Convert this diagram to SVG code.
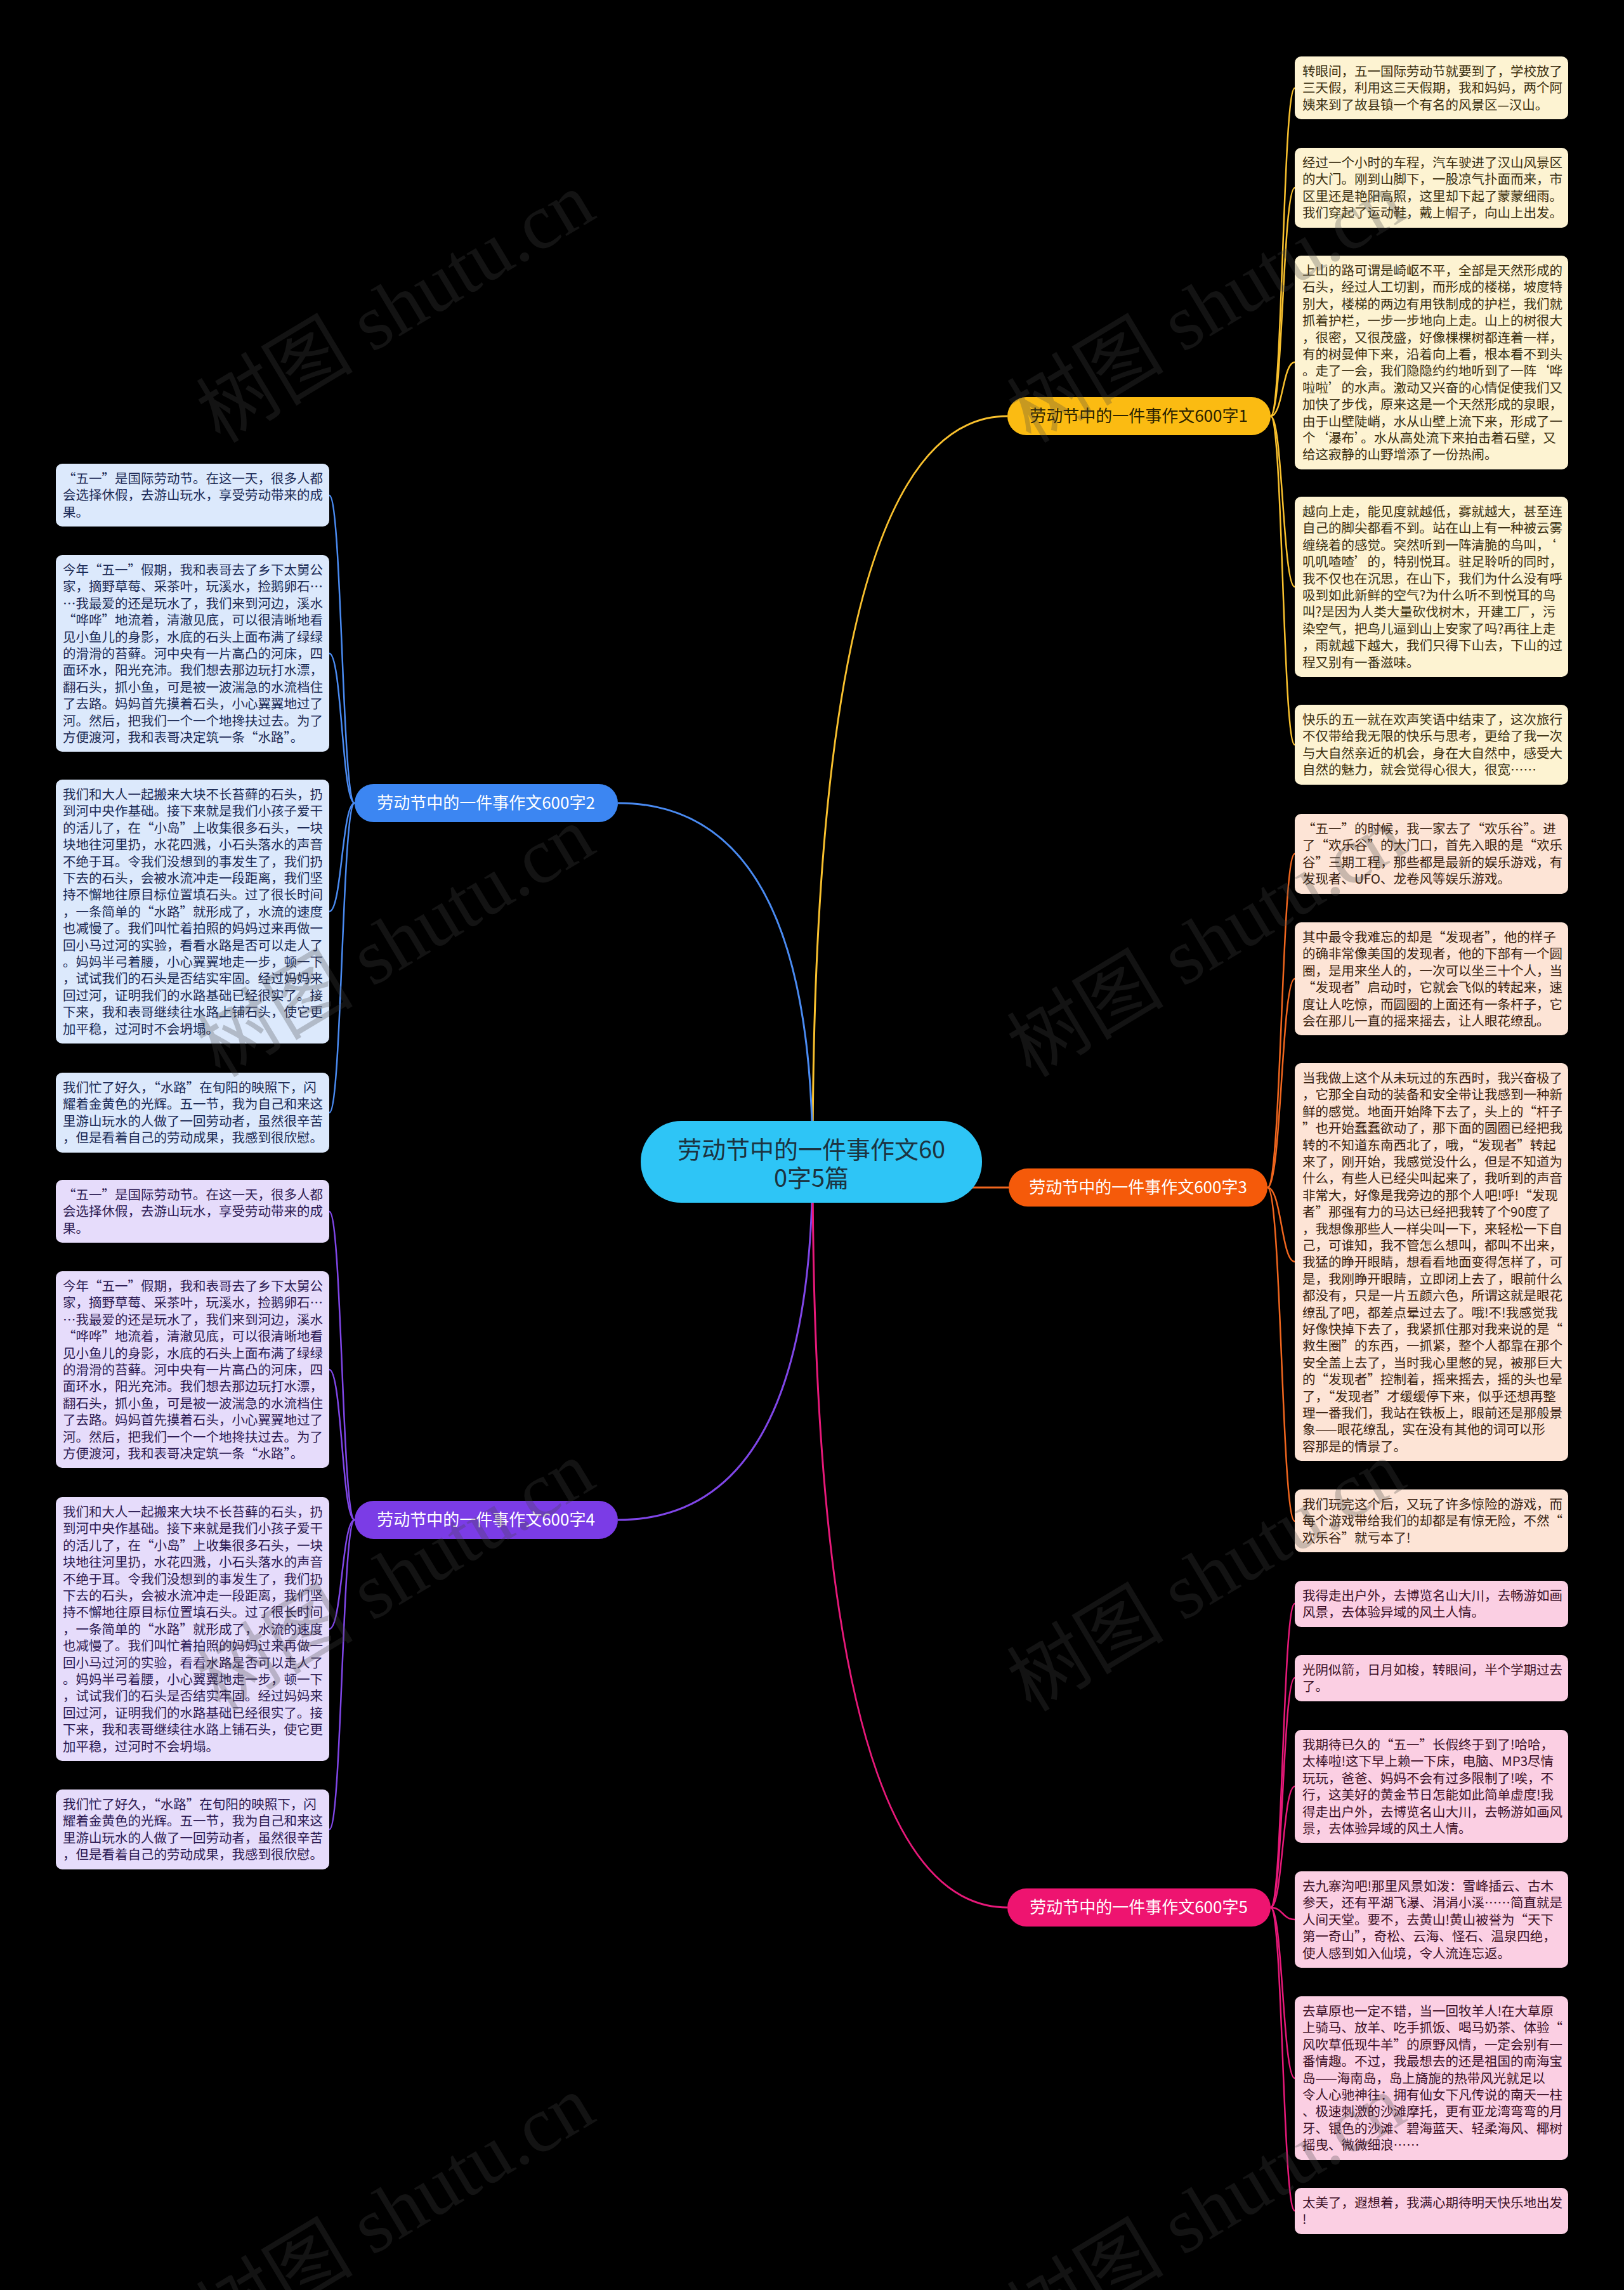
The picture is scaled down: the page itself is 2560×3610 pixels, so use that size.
<svg xmlns="http://www.w3.org/2000/svg" width="2560" height="3610" viewBox="0 0 2560 3610">
<style>
text{font-family:"Noto Sans CJK SC","Noto Sans",sans-serif}
.leaf{font-size:20.5px}
.c1 rect{fill:#FDF3D2}.c1 text{fill:#3B2F10}
.c3 rect{fill:#FDE4D6}.c3 text{fill:#3A1F0F}
.c5 rect{fill:#FBCFE3}.c5 text{fill:#3C0F26}
.c2 rect{fill:#DCE9FC}.c2 text{fill:#1B2A55}
.c4 rect{fill:#E6DCFB}.c4 text{fill:#2C1A52}
.br{font-size:26px;text-anchor:middle}
.ln{fill:none;stroke-width:3}
.sl{fill:none;stroke-width:2.5}
.wm{font-family:"Liberation Serif","Noto Sans CJK SC",serif;font-size:124px;fill:#444;opacity:0.28}
</style>
<rect x="0" y="0" width="2560" height="3610" fill="#000"/>
<g id="connectors">
<path class="ln" stroke="#F9C12E" d="M1281,1831 Q1281,656 1588,656"/>
<path class="ln" stroke="#4A8BF2" d="M1281,1831 Q1281,1266 974,1266"/>
<path class="ln" stroke="#F0661E" d="M1281,1872 H1590"/>
<path class="ln" stroke="#8046E8" d="M1281,1831 Q1281,2396 974,2396"/>
<path class="ln" stroke="#E8197A" d="M1281,1831 Q1281,3007 1588,3007"/>
<g stroke="#F9C12E">
<path class="sl" d="M2003,656 C2022,656 2022,139 2041,139"/>
<path class="sl" d="M2003,656 C2022,656 2022,296 2041,296"/>
<path class="sl" d="M2003,656 C2022,656 2022,571 2041,571"/>
<path class="sl" d="M2003,656 C2022,656 2022,925 2041,925"/>
<path class="sl" d="M2003,656 C2022,656 2022,1174 2041,1174"/>
</g>
<g stroke="#F0661E">
<path class="sl" d="M1998,1872 C2020,1872 2020,1346 2041,1346"/>
<path class="sl" d="M1998,1872 C2020,1872 2020,1543 2041,1543"/>
<path class="sl" d="M1998,1872 C2020,1872 2020,1989 2041,1989"/>
<path class="sl" d="M1998,1872 C2020,1872 2020,2398 2041,2398"/>
</g>
<g stroke="#E8197A">
<path class="sl" d="M2003,3007 C2022,3007 2022,2528 2041,2528"/>
<path class="sl" d="M2003,3007 C2022,3007 2022,2645 2041,2645"/>
<path class="sl" d="M2003,3007 C2022,3007 2022,2816 2041,2816"/>
<path class="sl" d="M2003,3007 C2022,3007 2022,3026 2041,3026"/>
<path class="sl" d="M2003,3007 C2022,3007 2022,3276 2041,3276"/>
<path class="sl" d="M2003,3007 C2022,3007 2022,3485 2041,3485"/>
</g>
<g stroke="#4A8BF2">
<path class="sl" d="M559,1266 C539,1266 539,781 519,781"/>
<path class="sl" d="M559,1266 C539,1266 539,1030 519,1030"/>
<path class="sl" d="M559,1266 C539,1266 539,1437 519,1437"/>
<path class="sl" d="M559,1266 C539,1266 539,1754 519,1754"/>
</g>
<g stroke="#8046E8">
<path class="sl" d="M559,2396 C539,2396 539,1910 519,1910"/>
<path class="sl" d="M559,2396 C539,2396 539,2159 519,2159"/>
<path class="sl" d="M559,2396 C539,2396 539,2568 519,2568"/>
<path class="sl" d="M559,2396 C539,2396 539,2884 519,2884"/>
</g>
</g>
<g id="center">
<rect x="1010" y="1767" width="538" height="129" rx="64" fill="#2EC5F6"/>
<text x="1279" y="1826" font-size="38" text-anchor="middle" fill="#1C3340"><tspan x="1279">劳动节中的一件事作文60</tspan><tspan x="1279" dy="45">0字5篇</tspan></text>
</g>
<g id="branch1"><rect x="1588" y="626" width="415" height="60" rx="30" fill="#FBBB12"/><text class="br" x="1795" y="665" fill="#2B2200">劳动节中的一件事作文600字1</text></g>
<g id="branch2"><rect x="559" y="1236" width="415" height="60" rx="30" fill="#3C86F2"/><text class="br" x="766" y="1275" fill="#fff">劳动节中的一件事作文600字2</text></g>
<g id="branch3"><rect x="1590" y="1842" width="408" height="60" rx="30" fill="#F55A0A"/><text class="br" x="1794" y="1881" fill="#fff">劳动节中的一件事作文600字3</text></g>
<g id="branch4"><rect x="559" y="2366" width="415" height="60" rx="30" fill="#7B3CE6"/><text class="br" x="766" y="2405" fill="#fff">劳动节中的一件事作文600字4</text></g>
<g id="branch5"><rect x="1588" y="2977" width="415" height="60" rx="30" fill="#EE1470"/><text class="br" x="1795" y="3016" fill="#fff">劳动节中的一件事作文600字5</text></g>

<g id="r1-1" class="c1"><rect x="2041" y="89" width="431" height="99" rx="10"/><text class="leaf" x="2053" y="120"><tspan x="2053">转眼间，五一国际劳动节就要到了，学校放了</tspan><tspan x="2053" dy="26.4">三天假，利用这三天假期，我和妈妈，两个阿</tspan><tspan x="2053" dy="26.4">姨来到了故县镇一个有名的风景区—汉山。</tspan></text></g>
<g id="r1-2" class="c1"><rect x="2041" y="233" width="431" height="126" rx="10"/><text class="leaf" x="2053" y="264"><tspan x="2053">经过一个小时的车程，汽车驶进了汉山风景区</tspan><tspan x="2053" dy="26.4">的大门。刚到山脚下，一股凉气扑面而来，市</tspan><tspan x="2053" dy="26.4">区里还是艳阳高照，这里却下起了蒙蒙细雨。</tspan><tspan x="2053" dy="26.4">我们穿起了运动鞋，戴上帽子，向山上出发。</tspan></text></g>
<g id="r1-3" class="c1"><rect x="2041" y="403" width="431" height="337" rx="10"/><text class="leaf" x="2053" y="434"><tspan x="2053">上山的路可谓是崎岖不平，全部是天然形成的</tspan><tspan x="2053" dy="26.4">石头，经过人工切割，而形成的楼梯，坡度特</tspan><tspan x="2053" dy="26.4">别大，楼梯的两边有用铁制成的护栏，我们就</tspan><tspan x="2053" dy="26.4">抓着护栏，一步一步地向上走。山上的树很大</tspan><tspan x="2053" dy="26.4">，很密，又很茂盛，好像棵棵树都连着一样，</tspan><tspan x="2053" dy="26.4">有的树曼伸下来，沿着向上看，根本看不到头</tspan><tspan x="2053" dy="26.4">。走了一会，我们隐隐约约地听到了一阵‘哗</tspan><tspan x="2053" dy="26.4">啦啦’的水声。激动又兴奋的心情促使我们又</tspan><tspan x="2053" dy="26.4">加快了步伐，原来这是一个天然形成的泉眼，</tspan><tspan x="2053" dy="26.4">由于山壁陡峭，水从山壁上流下来，形成了一</tspan><tspan x="2053" dy="26.4">个‘瀑布’。水从高处流下来拍击着石壁，又</tspan><tspan x="2053" dy="26.4">给这寂静的山野增添了一份热闹。</tspan></text></g>
<g id="r1-4" class="c1"><rect x="2041" y="783" width="431" height="284" rx="10"/><text class="leaf" x="2053" y="814"><tspan x="2053">越向上走，能见度就越低，雾就越大，甚至连</tspan><tspan x="2053" dy="26.4">自己的脚尖都看不到。站在山上有一种被云雾</tspan><tspan x="2053" dy="26.4">缠绕着的感觉。突然听到一阵清脆的鸟叫，‘</tspan><tspan x="2053" dy="26.4">叽叽喳喳’的，特别悦耳。驻足聆听的同时，</tspan><tspan x="2053" dy="26.4">我不仅也在沉思，在山下，我们为什么没有呼</tspan><tspan x="2053" dy="26.4">吸到如此新鲜的空气?为什么听不到悦耳的鸟</tspan><tspan x="2053" dy="26.4">叫?是因为人类大量砍伐树木，开建工厂，污</tspan><tspan x="2053" dy="26.4">染空气，把鸟儿逼到山上安家了吗?再往上走</tspan><tspan x="2053" dy="26.4">，雨就越下越大，我们只得下山去，下山的过</tspan><tspan x="2053" dy="26.4">程又别有一番滋味。</tspan></text></g>
<g id="r1-5" class="c1"><rect x="2041" y="1111" width="431" height="126" rx="10"/><text class="leaf" x="2053" y="1142"><tspan x="2053">快乐的五一就在欢声笑语中结束了，这次旅行</tspan><tspan x="2053" dy="26.4">不仅带给我无限的快乐与思考，更给了我一次</tspan><tspan x="2053" dy="26.4">与大自然亲近的机会，身在大自然中，感受大</tspan><tspan x="2053" dy="26.4">自然的魅力，就会觉得心很大，很宽……</tspan></text></g>

<g id="r3-1" class="c3"><rect x="2041" y="1283" width="431" height="126" rx="10"/><text class="leaf" x="2053" y="1314"><tspan x="2053">“五一”的时候，我一家去了“欢乐谷”。进</tspan><tspan x="2053" dy="26.4">了“欢乐谷”的大门口，首先入眼的是“欢乐</tspan><tspan x="2053" dy="26.4">谷”三期工程，那些都是最新的娱乐游戏，有</tspan><tspan x="2053" dy="26.4">发现者、UFO、龙卷风等娱乐游戏。</tspan></text></g>
<g id="r3-2" class="c3"><rect x="2041" y="1454" width="431" height="178" rx="10"/><text class="leaf" x="2053" y="1485"><tspan x="2053">其中最令我难忘的却是“发现者”，他的样子</tspan><tspan x="2053" dy="26.4">的确非常像美国的发现者，他的下部有一个圆</tspan><tspan x="2053" dy="26.4">圈，是用来坐人的，一次可以坐三十个人，当</tspan><tspan x="2053" dy="26.4">“发现者”启动时，它就会飞似的转起来，速</tspan><tspan x="2053" dy="26.4">度让人吃惊，而圆圈的上面还有一条杆子，它</tspan><tspan x="2053" dy="26.4">会在那儿一直的摇来摇去，让人眼花缭乱。</tspan></text></g>
<g id="r3-3" class="c3"><rect x="2041" y="1676" width="431" height="627" rx="10"/><text class="leaf" x="2053" y="1707"><tspan x="2053">当我做上这个从未玩过的东西时，我兴奋极了</tspan><tspan x="2053" dy="26.4">，它那全自动的装备和安全带让我感到一种新</tspan><tspan x="2053" dy="26.4">鲜的感觉。地面开始降下去了，头上的“杆子</tspan><tspan x="2053" dy="26.4">”也开始蠢蠢欲动了，那下面的圆圈已经把我</tspan><tspan x="2053" dy="26.4">转的不知道东南西北了，哦，“发现者”转起</tspan><tspan x="2053" dy="26.4">来了，刚开始，我感觉没什么，但是不知道为</tspan><tspan x="2053" dy="26.4">什么，有些人已经尖叫起来了，我听到的声音</tspan><tspan x="2053" dy="26.4">非常大，好像是我旁边的那个人吧!呼!“发现</tspan><tspan x="2053" dy="26.4">者”那强有力的马达已经把我转了个90度了</tspan><tspan x="2053" dy="26.4">，我想像那些人一样尖叫一下，来轻松一下自</tspan><tspan x="2053" dy="26.4">己，可谁知，我不管怎么想叫，都叫不出来，</tspan><tspan x="2053" dy="26.4">我猛的睁开眼睛，想看看地面变得怎样了，可</tspan><tspan x="2053" dy="26.4">是，我刚睁开眼睛，立即闭上去了，眼前什么</tspan><tspan x="2053" dy="26.4">都没有，只是一片五颜六色，所谓这就是眼花</tspan><tspan x="2053" dy="26.4">缭乱了吧，都差点晕过去了。哦!不!我感觉我</tspan><tspan x="2053" dy="26.4">好像快掉下去了，我紧抓住那对我来说的是“</tspan><tspan x="2053" dy="26.4">救生圈”的东西，一抓紧，整个人都靠在那个</tspan><tspan x="2053" dy="26.4">安全盖上去了，当时我心里憋的晃，被那巨大</tspan><tspan x="2053" dy="26.4">的“发现者”控制着，摇来摇去，摇的头也晕</tspan><tspan x="2053" dy="26.4">了，“发现者”才缓缓停下来，似乎还想再整</tspan><tspan x="2053" dy="26.4">理一番我们，我站在铁板上，眼前还是那般景</tspan><tspan x="2053" dy="26.4">象——眼花缭乱，实在没有其他的词可以形</tspan><tspan x="2053" dy="26.4">容那是的情景了。</tspan></text></g>
<g id="r3-4" class="c3"><rect x="2041" y="2348" width="431" height="99" rx="10"/><text class="leaf" x="2053" y="2379"><tspan x="2053">我们玩完这个后，又玩了许多惊险的游戏，而</tspan><tspan x="2053" dy="26.4">每个游戏带给我们的却都是有惊无险，不然“</tspan><tspan x="2053" dy="26.4">欢乐谷”就亏本了!</tspan></text></g>

<g id="r5-1" class="c5"><rect x="2041" y="2492" width="431" height="73" rx="10"/><text class="leaf" x="2053" y="2523"><tspan x="2053">我得走出户外，去博览名山大川，去畅游如画</tspan><tspan x="2053" dy="26.4">风景，去体验异域的风土人情。</tspan></text></g>
<g id="r5-2" class="c5"><rect x="2041" y="2609" width="431" height="73" rx="10"/><text class="leaf" x="2053" y="2640"><tspan x="2053">光阴似箭，日月如梭，转眼间，半个学期过去</tspan><tspan x="2053" dy="26.4">了。</tspan></text></g>
<g id="r5-3" class="c5"><rect x="2041" y="2727" width="431" height="178" rx="10"/><text class="leaf" x="2053" y="2758"><tspan x="2053">我期待已久的“五一”长假终于到了!哈哈，</tspan><tspan x="2053" dy="26.4">太棒啦!这下早上赖一下床，电脑、MP3尽情</tspan><tspan x="2053" dy="26.4">玩玩，爸爸、妈妈不会有过多限制了!唉，不</tspan><tspan x="2053" dy="26.4">行，这美好的黄金节日怎能如此简单虚度!我</tspan><tspan x="2053" dy="26.4">得走出户外，去博览名山大川，去畅游如画风</tspan><tspan x="2053" dy="26.4">景，去体验异域的风土人情。</tspan></text></g>
<g id="r5-4" class="c5"><rect x="2041" y="2950" width="431" height="152" rx="10"/><text class="leaf" x="2053" y="2981"><tspan x="2053">去九寨沟吧!那里风景如泼：雪峰插云、古木</tspan><tspan x="2053" dy="26.4">参天，还有平湖飞瀑、涓涓小溪……简直就是</tspan><tspan x="2053" dy="26.4">人间天堂。要不，去黄山!黄山被誉为“天下</tspan><tspan x="2053" dy="26.4">第一奇山”，奇松、云海、怪石、温泉四绝，</tspan><tspan x="2053" dy="26.4">使人感到如入仙境，令人流连忘返。</tspan></text></g>
<g id="r5-5" class="c5"><rect x="2041" y="3147" width="431" height="258" rx="10"/><text class="leaf" x="2053" y="3178"><tspan x="2053">去草原也一定不错，当一回牧羊人!在大草原</tspan><tspan x="2053" dy="26.4">上骑马、放羊、吃手抓饭、喝马奶茶、体验“</tspan><tspan x="2053" dy="26.4">风吹草低现牛羊”的原野风情，一定会别有一</tspan><tspan x="2053" dy="26.4">番情趣。不过，我最想去的还是祖国的南海宝</tspan><tspan x="2053" dy="26.4">岛——海南岛，岛上旖旎的热带风光就足以</tspan><tspan x="2053" dy="26.4">令人心驰神往：拥有仙女下凡传说的南天一柱</tspan><tspan x="2053" dy="26.4">、极速刺激的沙滩摩托，更有亚龙湾弯弯的月</tspan><tspan x="2053" dy="26.4">牙、银色的沙滩、碧海蓝天、轻柔海风、椰树</tspan><tspan x="2053" dy="26.4">摇曳、微微细浪……</tspan></text></g>
<g id="r5-6" class="c5"><rect x="2041" y="3449" width="431" height="73" rx="10"/><text class="leaf" x="2053" y="3480"><tspan x="2053">太美了，遐想着，我满心期待明天快乐地出发</tspan><tspan x="2053" dy="26.4">!</tspan></text></g>

<g id="l2-1" class="c2"><rect x="88" y="731" width="431" height="99" rx="10"/><text class="leaf" x="99" y="762"><tspan x="99">“五一”是国际劳动节。在这一天，很多人都</tspan><tspan x="99" dy="26.4">会选择休假，去游山玩水，享受劳动带来的成</tspan><tspan x="99" dy="26.4">果。</tspan></text></g>
<g id="l2-2" class="c2"><rect x="88" y="875" width="431" height="310" rx="10"/><text class="leaf" x="99" y="906"><tspan x="99">今年“五一”假期，我和表哥去了乡下太舅公</tspan><tspan x="99" dy="26.4">家，摘野草莓、采茶叶，玩溪水，捡鹅卵石…</tspan><tspan x="99" dy="26.4">…我最爱的还是玩水了，我们来到河边，溪水</tspan><tspan x="99" dy="26.4">“哗哗”地流着，清澈见底，可以很清晰地看</tspan><tspan x="99" dy="26.4">见小鱼儿的身影，水底的石头上面布满了绿绿</tspan><tspan x="99" dy="26.4">的滑滑的苔藓。河中央有一片高凸的河床，四</tspan><tspan x="99" dy="26.4">面环水，阳光充沛。我们想去那边玩打水漂，</tspan><tspan x="99" dy="26.4">翻石头，抓小鱼，可是被一波湍急的水流档住</tspan><tspan x="99" dy="26.4">了去路。妈妈首先摸着石头，小心翼翼地过了</tspan><tspan x="99" dy="26.4">河。然后，把我们一个一个地搀扶过去。为了</tspan><tspan x="99" dy="26.4">方便渡河，我和表哥决定筑一条“水路”。</tspan></text></g>
<g id="l2-3" class="c2"><rect x="88" y="1229" width="431" height="416" rx="10"/><text class="leaf" x="99" y="1260"><tspan x="99">我们和大人一起搬来大块不长苔藓的石头，扔</tspan><tspan x="99" dy="26.4">到河中央作基础。接下来就是我们小孩子爱干</tspan><tspan x="99" dy="26.4">的活儿了，在“小岛”上收集很多石头，一块</tspan><tspan x="99" dy="26.4">块地往河里扔，水花四溅，小石头落水的声音</tspan><tspan x="99" dy="26.4">不绝于耳。令我们没想到的事发生了，我们扔</tspan><tspan x="99" dy="26.4">下去的石头，会被水流冲走一段距离，我们坚</tspan><tspan x="99" dy="26.4">持不懈地往原目标位置填石头。过了很长时间</tspan><tspan x="99" dy="26.4">，一条简单的“水路”就形成了，水流的速度</tspan><tspan x="99" dy="26.4">也减慢了。我们叫忙着拍照的妈妈过来再做一</tspan><tspan x="99" dy="26.4">回小马过河的实验，看看水路是否可以走人了</tspan><tspan x="99" dy="26.4">。妈妈半弓着腰，小心翼翼地走一步，顿一下</tspan><tspan x="99" dy="26.4">，试试我们的石头是否结实牢固。经过妈妈来</tspan><tspan x="99" dy="26.4">回过河，证明我们的水路基础已经很实了。接</tspan><tspan x="99" dy="26.4">下来，我和表哥继续往水路上铺石头，使它更</tspan><tspan x="99" dy="26.4">加平稳，过河时不会坍塌。</tspan></text></g>
<g id="l2-4" class="c2"><rect x="88" y="1691" width="431" height="126" rx="10"/><text class="leaf" x="99" y="1722"><tspan x="99">我们忙了好久，“水路”在旬阳的映照下，闪</tspan><tspan x="99" dy="26.4">耀着金黄色的光辉。五一节，我为自己和来这</tspan><tspan x="99" dy="26.4">里游山玩水的人做了一回劳动者，虽然很辛苦</tspan><tspan x="99" dy="26.4">，但是看着自己的劳动成果，我感到很欣慰。</tspan></text></g>

<g id="l4-1" class="c4"><rect x="88" y="1860" width="431" height="99" rx="10"/><text class="leaf" x="99" y="1891"><tspan x="99">“五一”是国际劳动节。在这一天，很多人都</tspan><tspan x="99" dy="26.4">会选择休假，去游山玩水，享受劳动带来的成</tspan><tspan x="99" dy="26.4">果。</tspan></text></g>
<g id="l4-2" class="c4"><rect x="88" y="2004" width="431" height="310" rx="10"/><text class="leaf" x="99" y="2035"><tspan x="99">今年“五一”假期，我和表哥去了乡下太舅公</tspan><tspan x="99" dy="26.4">家，摘野草莓、采茶叶，玩溪水，捡鹅卵石…</tspan><tspan x="99" dy="26.4">…我最爱的还是玩水了，我们来到河边，溪水</tspan><tspan x="99" dy="26.4">“哗哗”地流着，清澈见底，可以很清晰地看</tspan><tspan x="99" dy="26.4">见小鱼儿的身影，水底的石头上面布满了绿绿</tspan><tspan x="99" dy="26.4">的滑滑的苔藓。河中央有一片高凸的河床，四</tspan><tspan x="99" dy="26.4">面环水，阳光充沛。我们想去那边玩打水漂，</tspan><tspan x="99" dy="26.4">翻石头，抓小鱼，可是被一波湍急的水流档住</tspan><tspan x="99" dy="26.4">了去路。妈妈首先摸着石头，小心翼翼地过了</tspan><tspan x="99" dy="26.4">河。然后，把我们一个一个地搀扶过去。为了</tspan><tspan x="99" dy="26.4">方便渡河，我和表哥决定筑一条“水路”。</tspan></text></g>
<g id="l4-3" class="c4"><rect x="88" y="2360" width="431" height="416" rx="10"/><text class="leaf" x="99" y="2391"><tspan x="99">我们和大人一起搬来大块不长苔藓的石头，扔</tspan><tspan x="99" dy="26.4">到河中央作基础。接下来就是我们小孩子爱干</tspan><tspan x="99" dy="26.4">的活儿了，在“小岛”上收集很多石头，一块</tspan><tspan x="99" dy="26.4">块地往河里扔，水花四溅，小石头落水的声音</tspan><tspan x="99" dy="26.4">不绝于耳。令我们没想到的事发生了，我们扔</tspan><tspan x="99" dy="26.4">下去的石头，会被水流冲走一段距离，我们坚</tspan><tspan x="99" dy="26.4">持不懈地往原目标位置填石头。过了很长时间</tspan><tspan x="99" dy="26.4">，一条简单的“水路”就形成了，水流的速度</tspan><tspan x="99" dy="26.4">也减慢了。我们叫忙着拍照的妈妈过来再做一</tspan><tspan x="99" dy="26.4">回小马过河的实验，看看水路是否可以走人了</tspan><tspan x="99" dy="26.4">。妈妈半弓着腰，小心翼翼地走一步，顿一下</tspan><tspan x="99" dy="26.4">，试试我们的石头是否结实牢固。经过妈妈来</tspan><tspan x="99" dy="26.4">回过河，证明我们的水路基础已经很实了。接</tspan><tspan x="99" dy="26.4">下来，我和表哥继续往水路上铺石头，使它更</tspan><tspan x="99" dy="26.4">加平稳，过河时不会坍塌。</tspan></text></g>
<g id="l4-4" class="c4"><rect x="88" y="2821" width="431" height="126" rx="10"/><text class="leaf" x="99" y="2852"><tspan x="99">我们忙了好久，“水路”在旬阳的映照下，闪</tspan><tspan x="99" dy="26.4">耀着金黄色的光辉。五一节，我为自己和来这</tspan><tspan x="99" dy="26.4">里游山玩水的人做了一回劳动者，虽然很辛苦</tspan><tspan x="99" dy="26.4">，但是看着自己的劳动成果，我感到很欣慰。</tspan></text></g>

<g id="watermarks">
<text class="wm" transform="translate(347,700) rotate(-31)">树图 shutu.cn</text>
<text class="wm" transform="translate(1625,700) rotate(-31)">树图 shutu.cn</text>
<text class="wm" transform="translate(347,1700) rotate(-31)">树图 shutu.cn</text>
<text class="wm" transform="translate(1625,1700) rotate(-31)">树图 shutu.cn</text>
<text class="wm" transform="translate(347,2700) rotate(-31)">树图 shutu.cn</text>
<text class="wm" transform="translate(1625,2700) rotate(-31)">树图 shutu.cn</text>
<text class="wm" transform="translate(347,3700) rotate(-31)">树图 shutu.cn</text>
<text class="wm" transform="translate(1625,3700) rotate(-31)">树图 shutu.cn</text>
</g>
</svg>
